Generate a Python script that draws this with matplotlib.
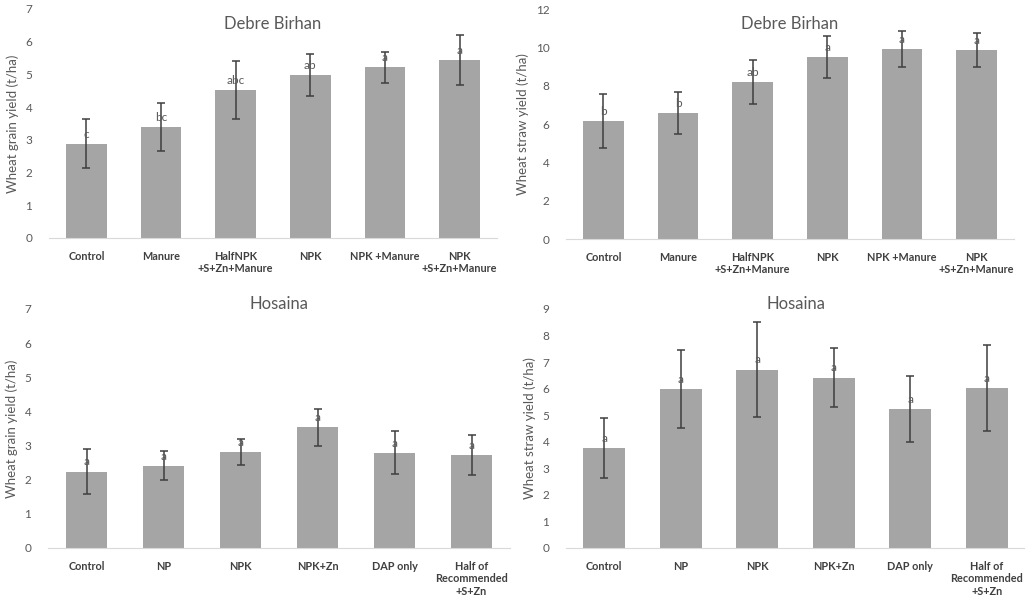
import matplotlib
matplotlib.use('Agg')
import matplotlib.pyplot as plt
import numpy as np

# treatments per site
db_treatments = ["Control", "Manure", "HalfNPK\n+S+Zn+Manure", "NPK",
                 "NPK +Manure", "NPK\n+S+Zn+Manure"]
hs_treatments = ["Control", "NP", "NPK", "NPK+Zn", "DAP only",
                 "Half of\nRecommended\n+S+Zn"]

# Debre Birhan grain yield (t/ha)
db_grain = [2.88, 3.39, 4.53, 4.97, 5.22, 5.45]
db_grain_err = [0.75, 0.73, 0.89, 0.64, 0.47, 0.76]
db_grain_letters = ["c", "bc", "abc", "ab", "a", "a"]

# Debre Birhan straw yield (t/ha)
db_straw = [6.14, 6.56, 8.20, 9.50, 9.90, 9.86]
db_straw_err = [1.40, 1.10, 1.15, 1.08, 0.93, 0.87]
db_straw_letters = ["b", "b", "ab", "a", "a", "a"]

# Hosaina grain yield (t/ha)
hs_grain = [2.24, 2.41, 2.81, 3.53, 2.79, 2.73]
hs_grain_err = [0.65, 0.42, 0.38, 0.55, 0.63, 0.58]
hs_grain_letters = ["a", "a", "a", "a", "a", "a"]

# Hosaina straw yield (t/ha)
hs_straw = [3.77, 5.99, 6.72, 6.42, 5.24, 6.02]
hs_straw_err = [1.12, 1.47, 1.79, 1.10, 1.24, 1.61]
hs_straw_letters = ["a", "a", "a", "a", "a", "a"]

plt.rcParams['font.family'] = ['Lato', 'DejaVu Sans']

W, H = 1025, 598
fig = plt.figure(figsize=(W / 100, H / 100), dpi=100)

BAR = '#a5a5a5'
TXT = '#595959'


def px_axes(x0, x1, ytop, ybot):
    return fig.add_axes([x0 / W, 1 - ybot / H, (x1 - x0) / W, (ybot - ytop) / H])


def panel(ax, cats, vals, errs, letters, ymax, step, title, ylabel, title_y):
    x = np.arange(len(cats))
    ax.bar(x, vals, width=0.545, color=BAR, zorder=2)
    ax.errorbar(x, vals, yerr=errs, fmt='none', ecolor='#3f3f3f',
                elinewidth=1.1, capsize=3, capthick=1.1, zorder=3)
    for xi, v, lab in zip(x, vals, letters):
        ax.annotate(lab, (xi, v), xytext=(0, 3), textcoords='offset points',
                    ha='center', va='bottom', fontsize=8.5, color=TXT, zorder=4)
    ax.set_xlim(-0.5, len(cats) - 0.5)
    ax.set_ylim(0, ymax)
    ax.set_yticks(np.arange(0, ymax + 0.01, step))
    ax.set_xticks(x)
    ax.set_xticklabels(cats, fontsize=7.8, fontweight='bold', color='#404040',
                       linespacing=1.2)
    ax.tick_params(axis='both', length=0)
    ax.tick_params(axis='y', labelsize=8.5, labelcolor=TXT, pad=12)
    ax.tick_params(axis='x', pad=9)
    for s in ['top', 'right', 'left']:
        ax.spines[s].set_visible(False)
    ax.spines['bottom'].set_color('#d9d9d9')
    ax.set_ylabel(ylabel, fontsize=9.5, color=TXT, labelpad=5)
    ax.set_title(title, fontsize=12, color=TXT, y=title_y)


ax1 = px_axes(49, 497, 9, 238)
panel(ax1, db_treatments, db_grain, db_grain_err, db_grain_letters, 7, 1,
      "Debre Birhan", "Wheat grain yield (t/ha)", 0.875)

ax2 = px_axes(566, 1014, 9, 239)
panel(ax2, db_treatments, db_straw, db_straw_err, db_straw_letters, 12, 2,
      "Debre Birhan", "Wheat straw yield (t/ha)", 0.875)

ax3 = px_axes(48, 510, 309, 548)
panel(ax3, hs_treatments, hs_grain, hs_grain_err, hs_grain_letters, 7, 1,
      "Hosaina", "Wheat grain yield (t/ha)", 0.965)

ax4 = px_axes(566, 1025, 309, 548)
panel(ax4, hs_treatments, hs_straw, hs_straw_err, hs_straw_letters, 9, 1,
      "Hosaina", "Wheat straw yield (t/ha)", 0.965)

fig.savefig('out.png', dpi=100, facecolor='white')
